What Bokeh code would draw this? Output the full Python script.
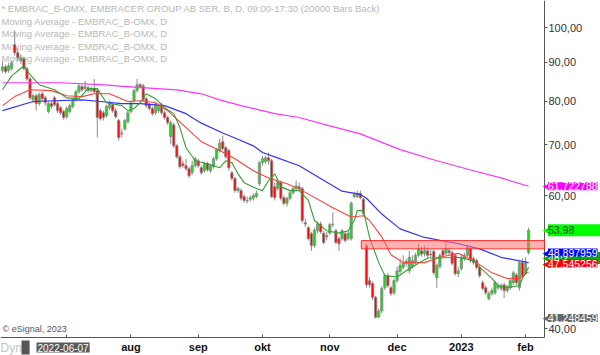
import math
from bokeh.plotting import figure
from bokeh.models import Range1d, FixedTicker, CustomJSTickFormatter, Label, BoxAnnotation, ColumnDataSource
from bokeh.embed import file_html
from bokeh.resources import INLINE

# ---------------- data (daily OHLC, EMBRAC_B) ----------------
opens = [87.8, 88.8, 87.8, 88.3, 95.0, 92.7, 90.5, 91.0, 88.3, 85.6,
         80.3, 81.3, 79.4, 81.8, 80.8, 77.5, 79.4, 80.8, 79.4, 78.4,
         77.5, 76.3, 77.5, 78.7, 80.3, 82.3, 83.6, 83.1, 83.3, 82.6,
         83.1, 82.6, 77.7, 77.2, 76.5, 78.4, 79.1, 77.7, 75.4, 72.4,
         73.5, 75.1, 77.5, 80.1, 82.6, 84.1, 83.8, 80.6, 79.1, 78.2,
         77.2, 77.7, 79.1, 77.2, 76.1, 71.8, 74.4, 69.8, 67.5, 66.1,
         65.7, 65.1, 64.3, 65.7, 66.7, 65.3, 64.7, 66.1, 64.7, 65.5,
         67.1, 68.8, 70.7, 69.4, 68.8, 64.3, 63.2, 60.9, 60.9, 59.8,
         59.1, 59.3, 59.5, 59.8, 62.2, 66.3, 66.5, 67.3, 66.7, 61.6,
         61.3, 62.4, 59.6, 58.6, 59.5, 60.5, 61.3, 61.6, 61.3, 55.2,
         54.4, 53.4, 51.5, 53.9, 55.0, 53.5, 52.9, 53.5, 54.9, 53.9,
         52.6, 52.6, 53.4, 52.6, 52.6, 59.8, 59.8, 60.4, 59.3, 51.5,
         46.3, 45.9, 44.0, 41.4, 42.2, 45.3, 47.0, 45.3, 44.6, 46.3,
         47.6, 48.2, 49.1, 47.7, 48.3, 48.9, 50.0, 50.7, 50.2, 50.7,
         50.2, 50.6, 46.7, 48.3, 50.7, 50.3, 50.7, 50.4, 50.0, 47.3,
         48.0, 49.5, 50.0, 51.0, 49.5, 49.2, 48.2, 46.0, 45.3, 43.8,
         44.5, 44.6, 45.3, 45.2, 45.7, 44.9, 45.3, 46.0, 47.1, 45.3,
         48.9, 47.4, 50.4]
closes = [88.8, 87.5, 89.1, 89.9, 92.7, 91.3, 91.3, 88.3, 85.6, 80.8,
          81.3, 79.4, 81.6, 80.6, 79.6, 79.4, 78.7, 79.1, 77.7, 77.2,
          76.1, 78.2, 78.9, 80.3, 82.3, 83.8, 82.8, 83.6, 82.6, 83.1,
          82.3, 76.1, 75.8, 76.1, 78.7, 79.6, 77.7, 76.3, 71.6, 72.6,
          75.4, 77.2, 79.6, 82.6, 84.1, 83.6, 80.3, 78.9, 78.2, 77.0,
          79.1, 78.9, 77.2, 76.1, 74.9, 74.9, 69.8, 67.5, 65.5, 65.7,
          65.1, 63.7, 65.7, 67.1, 65.7, 64.3, 66.1, 64.9, 65.7, 67.1,
          69.0, 70.4, 69.2, 67.5, 65.3, 63.2, 60.9, 61.3, 59.5, 59.1,
          59.0, 59.6, 60.0, 60.4, 66.3, 67.1, 67.3, 66.7, 59.8, 59.6,
          62.6, 59.5, 58.6, 59.5, 60.5, 61.3, 61.8, 61.3, 55.6, 55.0,
          52.6, 51.5, 54.0, 55.0, 53.7, 52.0, 53.1, 54.9, 55.0, 52.0,
          51.8, 53.9, 52.3, 53.5, 58.6, 60.2, 60.4, 59.6, 56.8, 45.7,
          45.7, 44.0, 41.4, 42.2, 45.2, 47.0, 45.6, 44.5, 46.3, 47.7,
          48.5, 48.9, 48.8, 49.7, 49.2, 50.0, 51.0, 50.2, 50.7, 50.0,
          50.1, 47.4, 48.5, 50.0, 50.0, 51.0, 50.4, 48.8, 47.3, 47.7,
          49.7, 50.0, 51.2, 49.2, 48.9, 48.2, 47.0, 45.2, 44.6, 44.5,
          44.9, 46.0, 45.6, 45.6, 44.9, 45.5, 46.3, 47.4, 46.0, 48.9,
          47.0, 48.9, 53.98]
highs = [90.2, 89.4, 89.9, 90.5, 99.2, 93.9, 92.2, 91.6, 88.8, 86.1,
         81.8, 81.8, 82.1, 82.3, 81.3, 79.9, 79.9, 81.3, 79.9, 78.9,
         77.9, 78.7, 79.4, 80.8, 82.8, 84.3, 84.1, 85.1, 83.8, 83.6,
         85.6, 83.1, 78.2, 77.7, 79.1, 80.1, 79.6, 78.2, 75.8, 73.5,
         75.8, 77.7, 80.1, 83.1, 85.6, 84.6, 84.3, 81.1, 79.6, 78.7,
         79.6, 79.4, 79.6, 77.7, 76.5, 75.4, 74.9, 70.2, 67.9, 66.7,
         67.1, 65.5, 66.7, 67.5, 67.1, 65.7, 66.5, 66.5, 66.1, 67.5,
         69.4, 71.3, 72.0, 69.8, 69.2, 64.7, 63.5, 61.6, 61.3, 60.2,
         59.8, 60.0, 60.4, 60.9, 66.7, 67.7, 67.7, 68.4, 67.1, 62.4,
         63.0, 62.8, 60.0, 59.8, 60.9, 61.6, 62.8, 62.4, 61.6, 55.9,
         54.7, 53.7, 54.4, 55.4, 55.4, 53.9, 53.7, 55.2, 57.0, 54.2,
         52.9, 54.2, 53.7, 53.9, 58.9, 60.7, 60.9, 60.9, 59.6, 51.8,
         46.8, 46.2, 44.2, 42.5, 45.5, 47.3, 47.4, 45.6, 46.6, 48.3,
         49.5, 50.0, 49.5, 50.7, 50.0, 50.4, 51.8, 51.3, 51.5, 51.2,
         50.9, 50.9, 48.8, 50.3, 51.0, 52.3, 51.2, 50.7, 50.3, 48.2,
         50.0, 50.4, 51.5, 51.5, 49.8, 49.5, 48.5, 46.3, 45.6, 44.8,
         45.3, 46.3, 46.0, 45.9, 46.0, 45.7, 46.6, 47.7, 47.4, 49.2,
         49.5, 49.7, 54.4]
lows = [87.2, 87.0, 87.2, 87.8, 91.9, 90.5, 89.6, 87.8, 85.1, 80.3,
        79.6, 77.7, 78.9, 80.1, 78.9, 77.0, 78.2, 78.7, 77.2, 76.7,
        75.6, 75.8, 77.0, 78.2, 79.9, 81.8, 82.3, 82.6, 82.1, 82.1,
        81.8, 71.6, 75.4, 75.4, 76.1, 77.9, 77.2, 75.8, 70.9, 71.6,
        73.1, 74.7, 77.0, 79.6, 82.1, 83.1, 79.9, 78.4, 77.7, 76.5,
        76.7, 77.2, 76.7, 75.6, 74.4, 70.2, 69.4, 67.1, 65.1, 65.3,
        64.7, 63.3, 63.9, 65.3, 65.3, 63.9, 64.3, 64.5, 64.3, 65.1,
        66.7, 68.4, 68.8, 67.1, 64.7, 62.8, 60.5, 60.5, 59.1, 58.7,
        58.6, 58.9, 59.1, 59.5, 61.8, 65.7, 66.1, 65.9, 59.5, 59.1,
        60.9, 59.1, 58.2, 58.0, 59.1, 60.2, 60.9, 60.9, 55.2, 54.5,
        52.3, 50.7, 51.2, 53.5, 53.4, 51.7, 52.4, 53.2, 54.5, 51.7,
        50.7, 52.3, 52.0, 52.3, 52.3, 59.5, 59.5, 59.3, 56.4, 45.3,
        45.3, 43.6, 41.248459, 41.6, 41.9, 45.0, 45.3, 44.2, 44.3, 46.0,
        47.3, 47.9, 48.3, 47.3, 48.0, 48.6, 49.7, 49.8, 49.8, 49.5,
        49.7, 47.1, 45.3, 48.0, 49.7, 50.0, 50.1, 48.5, 47.0, 46.8,
        47.7, 49.2, 49.7, 48.9, 48.6, 47.9, 46.7, 44.9, 44.3, 43.6,
        44.2, 44.3, 45.0, 44.9, 43.9, 44.6, 45.0, 45.7, 45.7, 44.9,
        46.7, 47.1, 50.1]

# moving averages (bar index, value)
ma10_idx = [0, 3, 7, 9, 12, 17, 21, 25, 28, 31, 34, 39, 41, 43, 45, 47, 50, 53, 56, 58,
            60, 63, 67, 71, 73, 75, 77, 79, 83, 85, 87, 89, 91, 94, 97, 100, 102, 106, 110, 113,
            115, 116, 118, 120, 123, 125, 129, 132, 136, 139, 143, 149, 154, 156, 160, 162, 165, 169, 170, 172]
ma10_val = [82.8, 86.4, 89.1, 86.7, 84.1, 82.8, 80.8, 80.6, 83.1, 83.1, 79.6, 78.9, 77.7, 78.2, 79.6, 81.8, 80.6, 78.4, 77.0, 73.8,
            69.4, 66.7, 66.1, 65.3, 66.7, 66.3, 64.1, 62.4, 61.3, 60.9, 62.8, 64.1, 61.6, 60.9, 60.9, 59.1, 55.6, 53.9, 53.5, 53.9,
            55.6, 57.3, 57.3, 52.8, 48.9, 47.0, 46.8, 47.7, 48.8, 49.6, 49.6, 49.7, 49.2, 48.2, 46.6, 45.6, 45.3, 45.6, 46.6, 48.2]
ma20_idx = [0, 4, 9, 16, 21, 26, 30, 35, 41, 45, 50, 54, 60, 65, 71, 76, 82, 87, 93, 98,
            108, 114, 118, 120, 124, 127, 131, 138, 143, 149, 154, 160, 165, 169, 172]
ma20_val = [78.9, 81.1, 82.8, 82.6, 81.3, 81.1, 81.8, 81.8, 79.9, 80.1, 79.6, 77.7, 73.8, 70.7, 68.8, 67.1, 64.7, 63.3, 62.2, 60.9,
            57.8, 56.2, 56.4, 55.6, 52.9, 50.1, 48.9, 48.9, 49.7, 50.3, 49.2, 47.4, 46.6, 46.6, 47.545256]
ma50_idx = [0, 10, 26, 32, 39, 45, 53, 60, 65, 72, 76, 82, 85, 89, 97, 104, 111, 117, 119, 124,
            130, 138, 149, 156, 163, 172]
ma50_val = [77.7, 79.9, 80.3, 79.9, 79.4, 79.4, 78.9, 77.0, 74.8, 72.6, 71.5, 69.8, 68.4, 67.5, 65.7, 63.2, 60.8, 60.2, 59.5, 56.7,
            54.2, 52.8, 51.8, 51.0, 49.7, 48.897959]
ma200_idx = [0, 9, 19, 32, 43, 57, 65, 71, 78, 89, 97, 107, 117, 130, 142, 154, 163, 172]
ma200_val = [84.6, 84.6, 84.6, 84.1, 83.5, 82.8, 81.8, 80.3, 78.9, 77.0, 76.1, 74.2, 72.4, 69.0, 66.7, 64.7, 63.3, 61.722788]

zone_start = 117.3
zone_low, zone_high = 51.0, 52.3

month_ticks = [21, 42, 64, 85, 107, 129, 150, 171]
month_labels = ["", "aug", "sep", "okt", "nov", "dec", "2023", "feb"]
price_ticks = [40, 50, 60, 70, 80, 90, 100]

# ---------------- layout helpers ----------------
W, H = 600, 355
PLOT_W, PLOT_H = 544, 337          # pixel extent of the price panel
PX_PER_BAR = 3.0588
PX_PER_DEC = 755.6
X0 = -0.65
YHI = 108.7
X1 = X0 + W / PX_PER_BAR
YLO = 10 ** (math.log10(YHI) - H / PX_PER_DEC)


def px_x(px):
    return X0 + px / PX_PER_BAR


def px_y(py):
    return 10 ** (math.log10(YHI) - py / PX_PER_DEC)


def y_px(v):
    return (math.log10(YHI) - math.log10(v)) * PX_PER_DEC


X_EDGE = px_x(PLOT_W)
Y_EDGE = px_y(PLOT_H)

FONT = "Liberation Sans"

p = figure(width=W, height=H, output_backend="svg", toolbar_location=None,
           y_axis_type="log", y_axis_location="right",
           x_range=Range1d(X0, X1), y_range=Range1d(YLO, YHI),
           min_border=0)
p.outline_line_color = None
p.xgrid.visible = False
p.ygrid.visible = False
p.background_fill_color = "white"
p.border_fill_color = "white"

# axes (pinned inside the canvas at the edge of the price panel)
yax = p.yaxis[0]
yax.fixed_location = X_EDGE
yax.bounds = (Y_EDGE, YHI)
yax.ticker = FixedTicker(ticks=price_ticks, minor_ticks=[])
yax.formatter = CustomJSTickFormatter(code="return tick.toFixed(2).replace('.', ',');")
yax.major_tick_out = 3
yax.major_tick_in = 0
yax.minor_tick_out = 0
yax.minor_tick_in = 0
yax.major_label_standoff = 1
yax.axis_line_color = "#555555"
yax.major_tick_line_color = "#555555"
yax.major_label_text_font = FONT
yax.major_label_text_font_size = "11px"
yax.major_label_text_color = "#333333"

xax = p.xaxis[0]
xax.fixed_location = Y_EDGE
xax.bounds = (X0, X_EDGE)
xax.ticker = FixedTicker(ticks=month_ticks, minor_ticks=[])
xax.formatter = CustomJSTickFormatter(args=dict(t=month_ticks, l=month_labels),
                                      code="const i = t.indexOf(tick); return i >= 0 ? l[i] : '';")
xax.major_tick_in = 3
xax.major_tick_out = 0
xax.minor_tick_in = 0
xax.minor_tick_out = 0
xax.major_label_standoff = 3
xax.axis_line_color = "#555555"
xax.major_tick_line_color = "#555555"
xax.major_label_text_font = FONT
xax.major_label_text_font_size = "11px"
xax.major_label_text_font_style = "bold"
xax.major_label_text_color = "#111111"

# header texts (drawn under the candles)
header = "* EMBRAC_B-OMX, EMBRACER GROUP AB SER. B, D, 09:00-17:30 (20000 Bars Back)"
ma_name = "Moving Average - EMBRAC_B-OMX, D"
for k, txt in enumerate([header, ma_name, ma_name, ma_name, ma_name]):
    p.add_layout(Label(x=px_x(1), y=px_y(8 + 12.6 * k), text=txt, text_font=FONT,
                       text_font_size="9.5px", text_color="#b8b8b8", text_baseline="middle",
                       level="underlay"))

# resistance zone
p.add_layout(BoxAnnotation(left=zone_start, right=X_EDGE, bottom=zone_low, top=zone_high,
                           fill_color="#ff7070", fill_alpha=0.55, line_color="#ff2020",
                           line_alpha=0.9, line_width=1))

# candles
n = len(opens)
xs = list(range(n))
body_top = [max(o, c) for o, c in zip(opens, closes)]
body_bot = [min(o, c) for o, c in zip(opens, closes)]
colors = ["#11e011" if c >= o else "#ff0000" for o, c in zip(opens, closes)]
src = ColumnDataSource(dict(x=xs, top=body_top, bottom=body_bot, high=highs, low=lows, color=colors))
p.segment(x0="x", y0="high", x1="x", y1="low", source=src, line_color="#8a8a8a", line_width=1)
p.vbar(x="x", width=0.74, top="top", bottom="bottom", source=src, fill_color="color",
       line_color="#8a8a8a", line_width=0.8)

# moving averages
p.line(ma200_idx, ma200_val, line_color="#ff33ff", line_width=1.2)
p.line(ma50_idx, ma50_val, line_color="#3333ff", line_width=1.2)
p.line(ma20_idx, ma20_val, line_color="#ff4040", line_width=1.1)
p.line(ma10_idx, ma10_val, line_color="#33a033", line_width=1.1)

# price tags on the right axis (pixel rows of the tag centres)
tags = [
    (y_px(61.722788), "61,722788", "#ff00ff", "white"),
    (y_px(53.98), "53,98\u00a0\u00a0\u00a0\u00a0\u00a0\u00a0\u00a0\u00a0\u00a0", "#00ff00", "#114411"),
    (257.5, "48,2\u00a0\u00a0\u00a0\u00a0\u00a0\u00a0\u00a0\u00a0\u00a0\u00a0\u00a0", "#00b000", "white"),
    (252, "48,897959", "#0000ff", "white"),
    (263, "47,545256", "#ff0000", "white"),
    (y_px(41.3), "41,248459", "#666666", "white"),
]
for py, txt, bg, fg in tags:
    p.add_layout(Label(x=px_x(549), y=px_y(py), text="\u25c0", text_font="DejaVu Sans",
                       text_font_size="9px", text_color=bg, text_align="right",
                       text_baseline="middle"))
    p.add_layout(Label(x=px_x(547.5), y=px_y(py), text=txt, text_font=FONT, text_font_size="10.5px",
                       text_color=fg, text_align="left", text_baseline="middle",
                       background_fill_color=bg, padding=0))

# bottom-left captions
p.add_layout(Label(x=px_x(2), y=px_y(328), text="\u00a9 eSignal, 2023", text_font=FONT,
                   text_font_size="9px", text_color="#555555", text_baseline="middle"))
p.add_layout(Label(x=px_x(0), y=px_y(347), text="Dyn", text_font=FONT,
                   text_font_size="12px", text_color="#c4c4c4", text_baseline="middle"))
p.add_layout(Label(x=px_x(21), y=px_y(347), text="\u00a0\u00a0", text_font=FONT,
                   text_font_size="11px", text_color="white", text_baseline="middle",
                   background_fill_color="#555555", padding=1))
p.add_layout(Label(x=px_x(36), y=px_y(347), text="2022-06-07", text_font=FONT,
                   text_font_size="10px", text_color="white", text_baseline="middle",
                   background_fill_color="#5a5a5a", padding=1))

open("out.html", "w").write(file_html(p, INLINE))
